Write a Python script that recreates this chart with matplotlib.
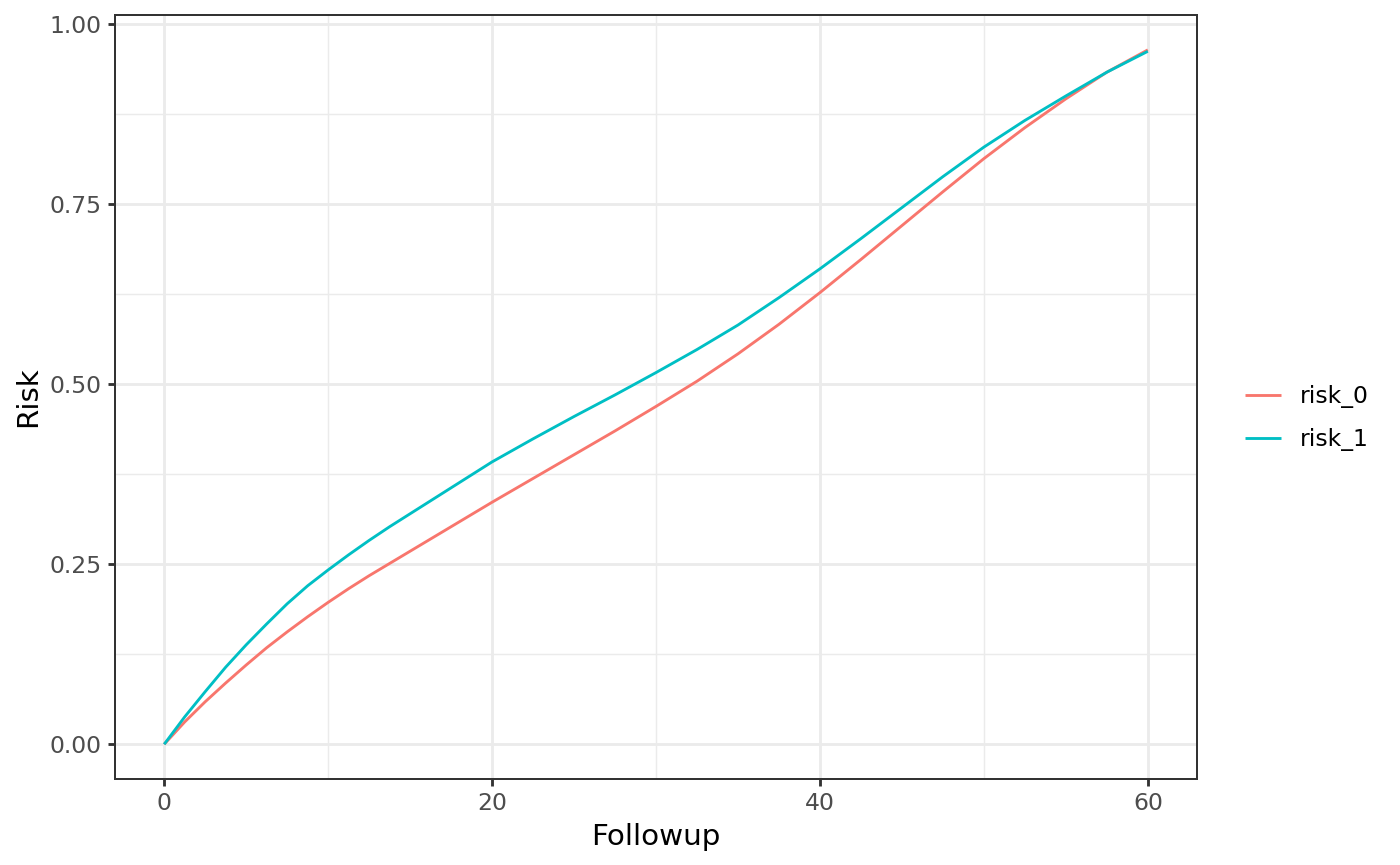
import matplotlib
matplotlib.use("Agg")
import matplotlib.pyplot as plt
from matplotlib.ticker import FixedLocator

followup = [0, 1.25, 2.5, 3.75, 5, 6.25, 7.5, 8.75, 10, 11.25, 12.5, 13.75, 15,
            17.5, 20, 22.5, 25, 27.5, 30, 32.5, 35, 37.5, 40, 42.5, 45, 47.5,
            50, 52.5, 55, 57.5, 60]
risk_0 = [0.0, 0.031, 0.059, 0.085, 0.110, 0.134, 0.156, 0.177, 0.197, 0.216,
          0.234, 0.251, 0.268, 0.302, 0.336, 0.369, 0.402, 0.435, 0.469, 0.504,
          0.542, 0.583, 0.627, 0.673, 0.720, 0.767, 0.813, 0.856, 0.896, 0.933,
          0.964]
risk_1 = [0.0, 0.038, 0.073, 0.107, 0.138, 0.167, 0.195, 0.220, 0.242, 0.263,
          0.283, 0.302, 0.320, 0.356, 0.392, 0.424, 0.455, 0.485, 0.516, 0.548,
          0.582, 0.620, 0.660, 0.702, 0.745, 0.788, 0.829, 0.866, 0.900, 0.933,
          0.962]
series_names = ["risk_0", "risk_1"]
series_colors = ["#F8766D", "#00BFC4"]
x_major = [0, 20, 40, 60]
x_minor = [10, 30, 50]
y_major = [0.0, 0.25, 0.5, 0.75, 1.0]
y_minor = [0.125, 0.375, 0.625, 0.875]
y_labels = ["0.00", "0.25", "0.50", "0.75", "1.00"]

plt.rcParams['font.family'] = ['DejaVu Sans']
DPI = 192
fig = plt.figure(figsize=(1400 / DPI, 865 / DPI), dpi=DPI)
ax = fig.add_axes([115 / 1400, 1 - 779 / 865, (1197 - 115) / 1400, (779 - 15) / 865])

lw = 1.07
for name, ys, col in zip(series_names, [risk_0, risk_1], series_colors):
    ax.plot(followup, ys, color=col, lw=lw, label=name, solid_capstyle='butt',
            solid_joinstyle='round', zorder=3)

ax.set_xlim(-3, 63)
ax.set_ylim(-0.0482, 1.0124)
ax.xaxis.set_major_locator(FixedLocator(x_major))
ax.xaxis.set_minor_locator(FixedLocator(x_minor))
ax.yaxis.set_major_locator(FixedLocator(y_major))
ax.yaxis.set_minor_locator(FixedLocator(y_minor))
ax.set_xticklabels([str(v) for v in x_major])
ax.set_yticklabels(y_labels)

ax.grid(which='major', color='#EBEBEB', lw=lw, zorder=0)
ax.grid(which='minor', color='#EBEBEB', lw=lw / 2, zorder=0)
ax.set_axisbelow(True)
for s in ax.spines.values():
    s.set_color('#333333')
    s.set_linewidth(0.75)

ax.tick_params(which='major', length=2.75, width=lw, color='#333333',
               labelsize=8.8, labelcolor='#4D4D4D', pad=2.2)
ax.tick_params(which='minor', length=0)

ax.set_xlabel("Followup", fontsize=11, color='black', labelpad=2.75)
ax.set_ylabel("Risk", fontsize=11, color='black', labelpad=2.75)

fig.legend(loc='center left', bbox_to_anchor=(1245 / 1400, 1 - 418 / 865),
           frameon=False, fontsize=8.8, handlelength=1.55, handletextpad=0.8,
           labelspacing=0.85, borderpad=0, borderaxespad=0)

fig.savefig("out.png", dpi=DPI, facecolor='white')
